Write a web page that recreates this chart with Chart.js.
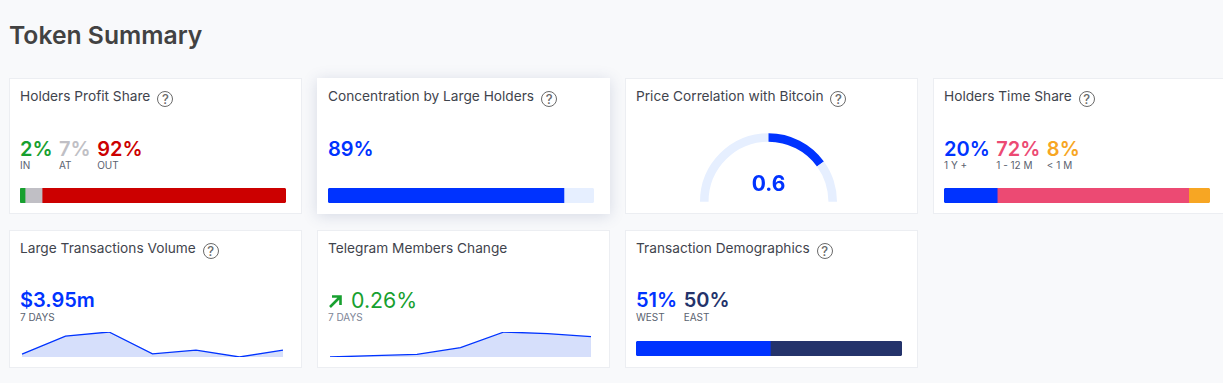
<!DOCTYPE html>
<html>
<head>
<meta charset="utf-8">
<script src="https://cdn.jsdelivr.net/npm/chart.js@4"></script>
<style>
  html, body { margin: 0; padding: 0; background: #f8f9fb; }
  body { position: relative; width: 1223px; height: 383px; overflow: hidden; font-family: Inter, sans-serif; }
  h1 { position: absolute; left: 9px; top: 19px; margin: 0; font-size: 24.7px; line-height: 32px; font-weight: 600; color: #424242; }
  .card { position: absolute; width: 293px; height: 136px; box-sizing: border-box; background: #fff; border: 1px solid #eceef2; }
  .card.row2 { top: 230px; height: 138px; }
  .card.row1 { top: 78px; }
  .card.hover { border-color: #fff; box-shadow: 0 2px 14px rgba(60, 75, 130, .18); }
  .title { position: absolute; left: 10px; top: 8px; font-size: 13.7px; line-height: 18px; font-weight: 400; color: #3f444d; white-space: nowrap; }
  .help { display: inline-block; width: 14px; height: 14px; margin-left: 7px; border: 1.8px solid #6a6a6a; border-radius: 50%; font-size: 13px; line-height: 14px; font-weight: 500; text-align: center; color: #6a6a6a; vertical-align: -3px; }
  .stats { position: absolute; left: 10px; top: 58px; display: flex; gap: 6.5px; }
  .row2 .stats { top: 57px; }
  .stat b { display: block; font-size: 20px; line-height: 24px; font-weight: 600; }
  .stat span { display: block; font-size: 10px; line-height: 11px; margin-top: -1px; color: #5a6270; white-space: nowrap; }
  .row2 .stat span { margin-top: 0; }
  canvas { position: absolute; }
  .gauge-num { position: absolute; left: -3px; width: 100%; top: 93px; text-align: center; font-size: 21px; line-height: 24px; font-weight: 700; color: #0033ff; }
  .arrow { vertical-align: -1px; margin-right: 8px; }
</style>
</head>
<body>
<h1>Token Summary</h1>

<div class="card row1" style="left:9px">
  <div class="title">Holders Profit Share<span class="help">?</span></div>
  <div class="stats" id="profitStats"></div>
  <canvas id="profitBar" style="left:10px;top:109px"></canvas>
</div>
<div class="card row1 hover" style="left:317px">
  <div class="title">Concentration by Large Holders<span class="help">?</span></div>
  <div class="stats" id="concStats"></div>
  <canvas id="concBar" style="left:10px;top:109px"></canvas>
</div>
<div class="card row1" style="left:625px">
  <div class="title">Price Correlation with Bitcoin<span class="help">?</span></div>
  <canvas id="gauge" style="left:74px;top:54px"></canvas>
  <div class="gauge-num" id="gaugeNum"></div>
</div>
<div class="card row1" style="left:933px">
  <div class="title">Holders Time Share<span class="help">?</span></div>
  <div class="stats" id="timeStats"></div>
  <canvas id="timeBar" style="left:10px;top:109px"></canvas>
</div>

<div class="card row2" style="left:9px">
  <div class="title">Large Transactions Volume<span class="help">?</span></div>
  <div class="stats"><div class="stat"><b style="color:#0033ff">$3.95m</b><span>7 DAYS</span></div></div>
  <canvas id="volumeLine" style="left:11px;top:99px"></canvas>
</div>
<div class="card row2" style="left:317px">
  <div class="title">Telegram Members Change</div>
  <div class="stats"><div class="stat"><b style="color:#17a02f;font-weight:400;font-size:21.3px"><svg class="arrow" width="15" height="15" viewBox="0 0 15 15"><path d="M2 13 L12 3 M4 2.5 H12.5 V11" fill="none" stroke="#17a02f" stroke-width="2.6"/></svg>0.26%</b><span style="color:#7d8596">7 DAYS</span></div></div>
  <canvas id="telegramLine" style="left:11px;top:99px"></canvas>
</div>
<div class="card row2" style="left:625px">
  <div class="title">Transaction Demographics<span class="help">?</span></div>
  <div class="stats" id="demoStats"></div>
  <canvas id="demoBar" style="left:10px;top:110px"></canvas>
</div>

<script>
// ---- Data ----
const profitLabels = ['IN', 'AT', 'OUT'];
const profitTexts = ['2%', '7%', '92%'];
const profitValues = [1.9, 6.4, 91.7];
const profitColors = ['#17a02f', '#c0bfc5', '#cc0000'];

const concLabels = ['Large holders', 'Others'];
const concTexts = ['89%'];
const concValues = [88.7, 11.3];
const concColors = ['#0033ff', '#e6efff'];

const gaugeValue = 0.6;
const gaugeParts = [1, 0.6, 0.4]; // -1..0, 0..value, value..1
const gaugeColors = ['#e6efff', '#0033ff', '#e6efff'];

const timeLabels = ['1 Y +', '1 - 12 M', '< 1 M'];
const timeTexts = ['20%', '72%', '8%'];
const timeValues = [20, 72, 8];
const timeColors = ['#0033ff', '#ec4a73', '#f7a623'];

const demoLabels = ['WEST', 'EAST'];
const demoTexts = ['51%', '50%'];
const demoValues = [51, 50];
const demoColors = ['#0033ff', '#24336b'];

const dayLabels = ['D1', 'D2', 'D3', 'D4', 'D5', 'D6', 'D7'];
const volumeValues = [0.18, 1.25, 1.49, 0.2, 0.42, 0.01, 0.42];
const telegramValues = [0, 0.017, 0.034, 0.12, 0.32, 0.30, 0.26];

Chart.defaults.animation = false;
Chart.defaults.responsive = false;

// ---- Stat labels above the bars ----
function fillStats(id, labels, texts, colors) {
  document.getElementById(id).innerHTML = texts.map((t, i) => `
    <div class="stat"><b style="color:${colors[i]}">${t}</b><span>${labels[i].replace('<', '&lt;')}</span></div>`).join('');
}
fillStats('profitStats', profitLabels, profitTexts, profitColors);
fillStats('timeStats', timeLabels, timeTexts, timeColors);
fillStats('demoStats', demoLabels, demoTexts, demoColors);
document.getElementById('concStats').innerHTML =
  `<div class="stat"><b style="color:${concColors[0]}">${concTexts[0]}</b></div>`;
document.getElementById('gaugeNum').textContent = gaugeValue;

// ---- Stacked share bars ----
function shareBar(id, labels, values, colors) {
  const el = document.getElementById(id);
  el.width = 266;
  el.height = 15;
  const last = values.length - 1;
  new Chart(el, {
    type: 'bar',
    data: {
      labels: [''],
      datasets: values.map((v, i) => ({
        label: labels[i],
        data: [v],
        backgroundColor: colors[i],
        borderWidth: 0,
        borderSkipped: false,
        borderRadius: {
          topLeft: i === 0 ? 3 : 0, bottomLeft: i === 0 ? 3 : 0,
          topRight: i === last ? 3 : 0, bottomRight: i === last ? 3 : 0
        },
        barPercentage: 1,
        categoryPercentage: 1
      }))
    },
    options: {
      indexAxis: 'y',
      plugins: { legend: { display: false }, tooltip: { enabled: false } },
      scales: {
        x: { display: false, stacked: true, min: 0, max: values.reduce((a, b) => a + b, 0) },
        y: { display: false, stacked: true }
      }
    }
  });
}
shareBar('profitBar', profitLabels, profitValues, profitColors);
shareBar('concBar', concLabels, concValues, concColors);
shareBar('timeBar', timeLabels, timeValues, timeColors);
shareBar('demoBar', demoLabels, demoValues, demoColors);

// ---- Gauge ----
const gaugeEl = document.getElementById('gauge');
gaugeEl.width = 137;
gaugeEl.height = 69;
new Chart(gaugeEl, {
  type: 'doughnut',
  data: {
    datasets: [{
      data: gaugeParts,
      backgroundColor: gaugeColors,
      borderWidth: 0,
      circumference: 180,
      rotation: -90,
      cutout: '87.5%'
    }]
  },
  options: { plugins: { legend: { display: false }, tooltip: { enabled: false } } }
});

// ---- Sparklines ----
function sparkline(id, values) {
  const el = document.getElementById(id);
  el.width = 263;
  el.height = 29;
  new Chart(el, {
    type: 'line',
    data: {
      labels: dayLabels,
      datasets: [{
        data: values,
        borderColor: '#0033ff',
        borderWidth: 1.3,
        backgroundColor: '#d6dffb',
        fill: 'start',
        pointRadius: 0,
        tension: 0
      }]
    },
    options: {
      layout: { padding: { left: 1, right: 1, top: 2, bottom: 2 } },
      plugins: { legend: { display: false }, tooltip: { enabled: false } },
      scales: {
        x: { display: false },
        y: { display: false, min: Math.min(...values), max: Math.max(...values) }
      }
    }
  });
}
sparkline('volumeLine', volumeValues);
sparkline('telegramLine', telegramValues);
</script>
</body>
</html>
